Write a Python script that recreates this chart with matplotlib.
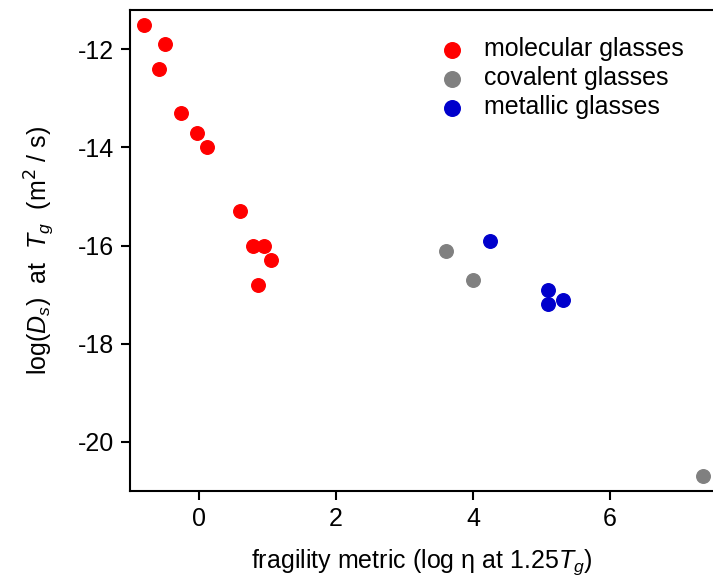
import numpy as np
import matplotlib
matplotlib.use('Agg')
import matplotlib.pyplot as plt

plt.rcParams['font.family'] = ['Liberation Sans', 'DejaVu Sans']
plt.rcParams['mathtext.fontset'] = 'custom'
plt.rcParams['mathtext.rm'] = 'Liberation Sans'
plt.rcParams['mathtext.it'] = 'Liberation Sans:italic'
plt.rcParams['axes.unicode_minus'] = False

# fragility metric vs log(Ds)
mol_x = [-0.80, -0.49, -0.58, -0.25, -0.03, 0.12, 0.60, 0.79, 0.96, 1.05, 0.87]
mol_y = [-11.5, -11.9, -12.4, -13.3, -13.7, -14.0, -15.3, -16.0, -16.0, -16.3, -16.8]
cov_x = [3.61, 4.00, 7.35]
cov_y = [-16.1, -16.7, -20.7]
met_x = [4.25, 5.09, 5.09, 5.31]
met_y = [-15.9, -16.9, -17.2, -17.1]

fig = plt.figure(figsize=(7.13, 5.77), dpi=100)
ax = fig.add_axes([0.1823, 0.149, 0.8177, 0.8337])

ax.scatter(mol_x, mol_y, s=95, color='#ff0000', label='molecular glasses', zorder=3)
ax.scatter(cov_x, cov_y, s=95, color='#808080', label='covalent glasses', zorder=3)
ax.scatter(met_x, met_y, s=95, color='#0000cc', label='metallic glasses', zorder=3)

ax.set_xlim(-1.0, 7.5)
ax.set_ylim(-21.0, -11.2)
ax.set_xticks([0, 2, 4, 6])
ax.set_yticks([-12, -14, -16, -18, -20])
ax.spines['right'].set_visible(False)
for s in ['left', 'bottom', 'top']:
    ax.spines[s].set_linewidth(1.5)
ax.tick_params(direction='out', length=6.5, width=1.5, labelsize=18, pad=5)

ax.set_xlabel(r'fragility metric (log $\mathrm{\eta}$ at 1.25$T_g$)', fontsize=18, labelpad=12)
ax.set_ylabel(r'log($D_s$)  at  $T_g$  (m$^{\mathsf{2}}$ / s)', fontsize=18, labelpad=16)

ax.legend(loc='upper right', bbox_to_anchor=(0.98, 0.98), frameon=False, fontsize=18,
          handlelength=1.4, handletextpad=0.6, labelspacing=0.2, scatterpoints=1,
          markerscale=1.15, borderaxespad=0.3)

fig.savefig('out.png', dpi=100)
